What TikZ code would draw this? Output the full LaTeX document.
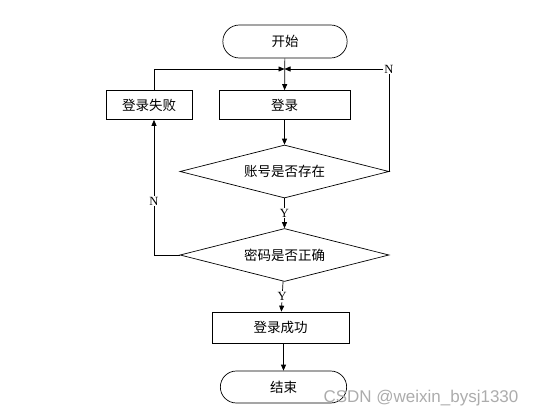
\documentclass[tikz,border=0pt]{standalone}
\usepackage{fontspec}
\setmainfont{Liberation Serif}
\newfontfamily\cjk{Noto Sans CJK SC}
\newfontfamily\markfont{Liberation Sans}
\usetikzlibrary{shapes.geometric, shapes.misc, arrows.meta}
\begin{document}
\begin{tikzpicture}[x=1pt, y=-1pt, >={Triangle[length=6pt,width=5pt]},
  line width=0.7pt,
  terminal/.style={draw, rounded rectangle, minimum width=131pt, minimum height=33pt, font=\cjk\fontsize{13.5}{15}\selectfont},
  process/.style={draw, rectangle, minimum height=29pt, font=\cjk\fontsize{13.5}{15}\selectfont},
  decision/.style={draw, diamond, aspect=4, inner sep=0pt, minimum width=209pt, minimum height=53pt, font=\cjk\fontsize{13.5}{15}\selectfont},
  tag/.style={font=\fontsize{12.5}{14}\selectfont, fill=white, inner sep=1pt}]
\useasboundingbox (0,0) rectangle (549,418);
\node[terminal] (start) at (285,41.5) {开始};
\node[process, minimum width=131pt] (login) at (284.5,105) {登录};
\node[process, minimum width=86pt] (fail) at (149,105) {登录失败};
\node[decision] (user) at (284.5,171.5) {账号是否存在};
\node[decision] (pass) at (284.5,255) {密码是否正确};
\node[process, minimum width=137pt, minimum height=31pt] (ok) at (280.5,327.5) {登录成功};
\node[terminal, minimum width=133pt, minimum height=32pt] (stop) at (283.5,387) {结束};
\coordinate (m) at (284.5,69);
\coordinate (failin) at ([xshift=5pt]fail.south);
\coordinate (failout) at ([xshift=5pt]fail.north);
\coordinate (corner) at (failin |- pass.west);
\node[tag, fill=none] (nright) at (389,69) {N};
\node[font=\markfont\fontsize{17}{17}\selectfont, text=gray!65] (mark) at (421,398) {CSDN @weixin\_bysj1330};
% main path
\draw[->] (start) -- (login);
\draw[->] (login) -- (user);
\draw[->] (user) -- node[tag] {Y} (pass);
\draw[->] (pass) -- node[tag] {Y} (ok);
\draw[->] (ok.south -| stop.north) -- (stop);
% back edges
\draw (pass.west) -- (corner);
\draw[->] (corner) -- node[tag, pos=0.4] {N} (failin);
\draw[->] (failout) |- (m);
\draw (user.east) -- (user.east |- nright.south);
\draw[->] (nright.west) -- (m);
\end{tikzpicture}
\end{document}
